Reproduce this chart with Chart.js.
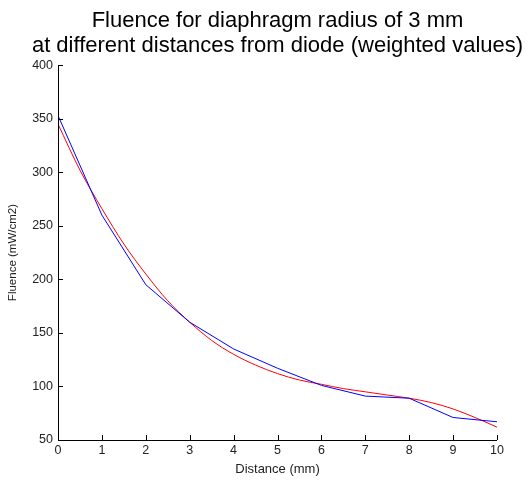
<!DOCTYPE html>
<html><head><meta charset="utf-8">
<script src="https://cdn.jsdelivr.net/npm/chart.js@4/dist/chart.umd.min.js"></script>
<style>html,body{margin:0;padding:0;background:#fff}#wrap{width:529px;height:481px}</style>
</head><body><div id="wrap"><canvas id="c" width="529" height="481"></canvas></div>
<script>
const titleLines = ["Fluence for diaphragm radius of 3 mm", "at different distances from diode (weighted values)"];
const xTicks = [0,1,2,3,4,5,6,7,8,9,10];
const yTicks = [50,100,150,200,250,300,350,400];
const measuredX = [0,1,2,3,4,5,6,7,8,9,10];
const measuredY = [353,260,195,160,135,117,101,91,89,71,67];
const fitX = [0,0.5,1,1.5,2,2.5,3,3.5,4,4.5,5,5.5,6,6.5,7,7.5,8,8.5,9,9.5,10];
const fitY = [345,302,266,233,205,180,160,143,130,120,112,106,102,98,95,92,89,85,79,71,62];

const inwardTicks = {
  id:'inwardTicks',
  afterLayout(chart){
    // centre the title over the plot area (as in the reference)
    const t = chart.titleBlock, a = chart.chartArea;
    const shift = (a.left + a.right)/2 - (t.left + t.right)/2;
    t.left += shift; t.right += shift;
  },
  afterDraw(chart){
    const ctx = chart.ctx, xs = chart.scales.x, ys = chart.scales.y, a = chart.chartArea;
    ctx.save();
    ctx.strokeStyle='#000'; ctx.lineWidth=1;
    ctx.beginPath();
    ctx.moveTo(a.left+0.5, a.top); ctx.lineTo(a.left+0.5, a.bottom+0.5); ctx.lineTo(a.right, a.bottom+0.5);
    xTicks.forEach(v=>{const p=Math.round(xs.getPixelForValue(v))+0.5; ctx.moveTo(p,a.bottom); ctx.lineTo(p,a.bottom-5);});
    yTicks.forEach(v=>{const p=Math.round(ys.getPixelForValue(v))+0.5; ctx.moveTo(a.left,p); ctx.lineTo(a.left+5,p);});
    ctx.stroke();
    ctx.restore();
  }
};

new Chart(document.getElementById('c'), {
  type:'line',
  data:{datasets:[
    {data: measuredX.map((x,i)=>({x, y: measuredY[i]})), borderColor:'#0000ff', borderWidth:1, pointRadius:0, tension:0, fill:false},
    {data: fitX.map((x,i)=>({x, y: fitY[i]})), borderColor:'#ff0000', borderWidth:1, pointRadius:0, tension:0.4, cubicInterpolationMode:'monotone', fill:false}
  ]},
  options:{
    responsive:false, animation:false, devicePixelRatio:1,
    layout:{padding:{left:0,right:32,top:0,bottom:0}},
    plugins:{
      legend:{display:false}, tooltip:{enabled:false},
      title:{display:true, fullSize:true, text:titleLines, color:'#000', font:{family:'Liberation Sans, Arial', size:22, weight:'normal', lineHeight:1.14}, padding:{top:8,bottom:7}}
    },
    scales:{
      x:{type:'linear', min:0, max:10,
        afterBuildTicks(s){s.ticks = xTicks.map(v=>({value:v}));},
        grid:{display:false, drawTicks:false}, border:{display:false},
        ticks:{color:'#222', font:{family:'Liberation Sans, Arial', size:12.5}, padding:3, maxRotation:0},
        title:{display:true, text:'Distance (mm)', color:'#222', font:{family:'Liberation Sans, Arial', size:13}, padding:{top:1,bottom:4}},
        afterFit(s){s.height = 41;}
      },
      y:{type:'linear', min:50, max:400,
        afterBuildTicks(s){s.ticks = yTicks.map(v=>({value:v}));},
        grid:{display:false, drawTicks:false}, border:{display:false},
        ticks:{color:'#222', font:{family:'Liberation Sans, Arial', size:12.5}, padding:5},
        title:{display:true, text:'Fluence (mW/cm2)', color:'#222', font:{family:'Liberation Sans, Arial', size:11.5}, padding:{top:6,bottom:4}},
        afterFit(s){s.width = 58;}
      }
    }
  },
  plugins:[inwardTicks]
});
</script></body></html>
